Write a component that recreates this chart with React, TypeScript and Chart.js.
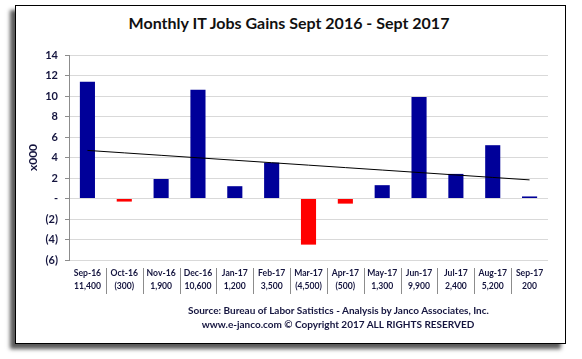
import React, { useEffect, useRef } from 'react';
import { Chart, registerables } from 'chart.js';

Chart.register(...registerables);

const months = ['Sep-16', 'Oct-16', 'Nov-16', 'Dec-16', 'Jan-17', 'Feb-17', 'Mar-17', 'Apr-17', 'May-17', 'Jun-17', 'Jul-17', 'Aug-17', 'Sep-17'];
const valueLabels = ['11,400', '(300)', '1,900', '10,600', '1,200', '3,500', '(4,500)', '(500)', '1,300', '9,900', '2,400', '5,200', '200'];
const jobGains = [11.4, -0.3, 1.9, 10.6, 1.2, 3.5, -4.5, -0.5, 1.3, 9.9, 2.4, 5.2, 0.2];
const yMin = -6;
const yMax = 14;
const yStep = 2;

const titleText = 'Monthly IT Jobs Gains Sept 2016 - Sept 2017';
const yAxisTitle = 'x000';
const footerLines = [
  'Source: Bureau of Labor Satistics - Analysis by Janco Associates, Inc.',
  'www.e-janco.com \u00A9 Copyright 2017 ALL RIGHTS RESERVED',
];

// Linear (least squares) trendline, as Excel computes it from the series
function linearTrend(values: number[]): number[] {
  const n = values.length;
  const xs = values.map((_, i) => i);
  const mx = xs.reduce((a, b) => a + b, 0) / n;
  const my = values.reduce((a, b) => a + b, 0) / n;
  let num = 0;
  let den = 0;
  for (let i = 0; i < n; i++) {
    num += (xs[i] - mx) * (values[i] - my);
    den += (xs[i] - mx) * (xs[i] - mx);
  }
  const slope = num / den;
  return xs.map((x) => my + slope * (x - mx));
}

const FONT = 'Lato, "Open Sans", sans-serif';
const TEXT_COLOR = '#15153f';

const separatorPlugin = {
  id: 'separators',
  afterDraw(chart: any) {
    const xs = chart.scales.x;
    const ctx = chart.ctx;
    ctx.save();
    ctx.strokeStyle = '#8c8c8c';
    ctx.lineWidth = 1;
    for (let i = 0; i < months.length - 1; i++) {
      const x = Math.round((xs.getPixelForValue(i) + xs.getPixelForValue(i + 1)) / 2) + 0.5;
      ctx.beginPath();
      ctx.moveTo(x, chart.chartArea.bottom + 8);
      ctx.lineTo(x, chart.chartArea.bottom + 34);
      ctx.stroke();
    }
    ctx.restore();
  },
};

export default function App() {
  const canvasRef = useRef<HTMLCanvasElement | null>(null);

  useEffect(() => {
    if (!canvasRef.current) return;
    const chart = new Chart(canvasRef.current, {
      type: 'bar',
      data: {
        labels: months.map((m, i) => [m, valueLabels[i]]),
        datasets: [
          {
            type: 'line',
            data: linearTrend(jobGains),
            borderColor: '#000000',
            borderWidth: 1,
            pointRadius: 0,
            fill: false,
            order: 0,
          } as any,
          {
            type: 'bar',
            data: jobGains,
            backgroundColor: (c: any) => (c.raw < 0 ? '#ff0000' : '#000099'),
            categoryPercentage: 1,
            barPercentage: 0.41,
            order: 1,
          },
        ],
      },
      options: {
        animation: false,
        responsive: false,
        maintainAspectRatio: false,
        layout: { padding: { left: 0, right: 34, top: 55, bottom: 0 } },
        plugins: {
          legend: { display: false },
          tooltip: { enabled: false },
          title: { display: false },
        },
        scales: {
          x: {
            type: 'category',
            offset: true,
            afterFit: (s: any) => {
              s.height = 99;
            },
            grid: { display: false, drawTicks: false },
            border: { display: false },
            ticks: {
              autoSkip: false,
              maxRotation: 0,
              padding: 6,
              color: TEXT_COLOR,
              font: { family: FONT, size: 8.6, weight: 'bold', lineHeight: 1.6 },
            },
          },
          y: {
            min: yMin,
            max: yMax,
            afterFit: (s: any) => {
              s.width = 69;
            },
            ticks: {
              stepSize: yStep,
              padding: 7,
              color: TEXT_COLOR,
              font: { family: FONT, size: 11, weight: 'bold' },
              callback: (v: any) => {
                const n = Number(v);
                if (n === 0) return '-';
                if (n < 0) return '(' + Math.abs(n) + ')';
                return String(n);
              },
            },
            grid: {
              color: '#d9d9d9',
              tickColor: '#8c8c8c',
              tickLength: 4,
              lineWidth: 1,
            },
            border: { display: true, color: '#8c8c8c' },
            title: {
              display: true,
              text: yAxisTitle,
              color: TEXT_COLOR,
              font: { family: FONT, size: 12, weight: 'bold' },
              padding: { top: 26, bottom: 0 },
            },
          },
        },
      },
      plugins: [separatorPlugin],
    });
    return () => chart.destroy();
  }, []);

  return (
    <div style={{ position: 'fixed', left: 0, top: 0, width: 582, height: 359, background: '#ffffff', overflow: 'hidden' }}>
      <div
        style={{
          position: 'absolute',
          left: 15,
          top: 5,
          width: 549,
          height: 337,
          border: '1px solid #000',
          background: '#fff',
          boxShadow: '-5px 5px 4px rgba(0,0,0,0.65)',
        }}
      />
      <div
        style={{
          position: 'absolute',
          left: 0,
          width: 578,
          top: 12,
          textAlign: 'center',
          fontFamily: FONT,
          fontWeight: 'bold',
          fontSize: 16,
          color: '#111',
          lineHeight: '22px',
        }}
      >
        {titleText}
      </div>
      <canvas ref={canvasRef} width={582} height={359} style={{ position: 'absolute', left: 0, top: 0, width: 582, height: 359 }} />
      <div
        style={{
          position: 'absolute',
          left: 188,
          width: 300,
          top: 303,
          textAlign: 'center',
          fontFamily: FONT,
          fontWeight: 'bold',
          fontSize: 10,
          color: TEXT_COLOR,
          lineHeight: '14px',
          whiteSpace: 'nowrap',
        }}
      >
        {footerLines.map((l) => (
          <div key={l}>{l}</div>
        ))}
      </div>
    </div>
  );
}
